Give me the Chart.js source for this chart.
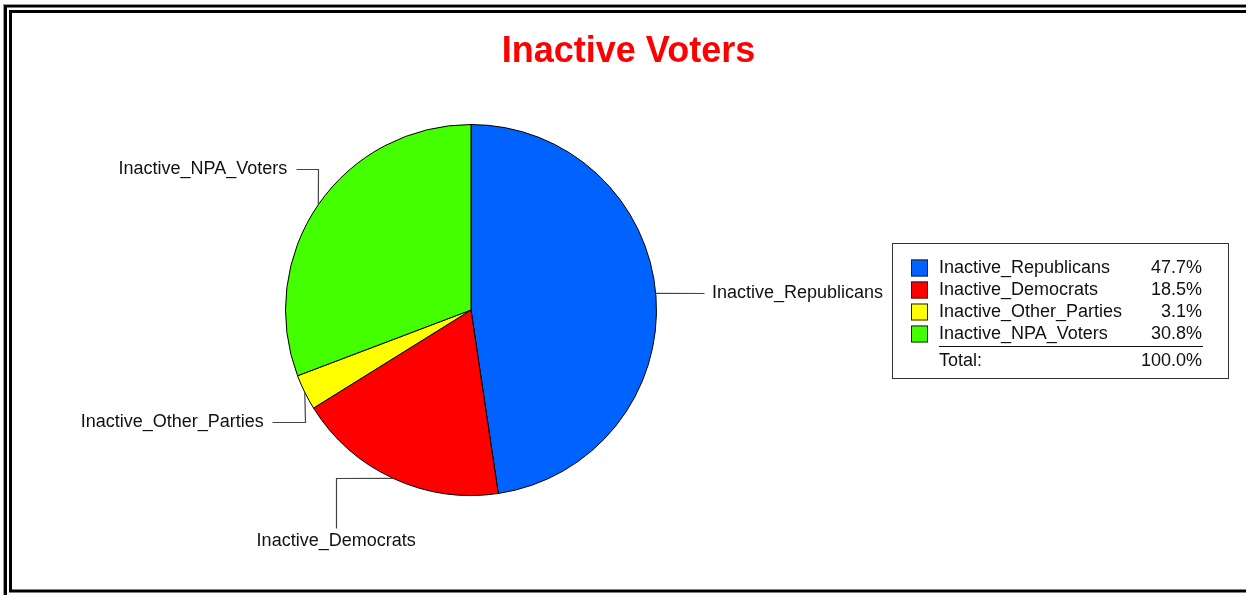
<!DOCTYPE html>
<html>
<head>
<meta charset="utf-8">
<script src="https://cdn.jsdelivr.net/npm/chart.js@4"></script>
<style>
  html, body { margin: 0; padding: 0; background: #fff; }
  #wrap { width: 1246px; height: 595px; position: relative; overflow: hidden; }
</style>
</head>
<body>
<div id="wrap"><canvas id="c" width="1246" height="595"></canvas></div>
<script>
// ---- data ----
const chartTitle = "Inactive Voters";
const categories = ["Inactive_Republicans", "Inactive_Democrats", "Inactive_Other_Parties", "Inactive_NPA_Voters"];
const percentValues = [47.7, 18.5, 3.1, 30.8];
const totalLabel = "Total:";
const totalPercent = 100.0;
const sliceColors = ["#0062FF", "#FF0000", "#FFFF00", "#44FF00"];

// ---- label leader layouts (style/placement options) ----
const leaderLayouts = [
  { start: [0, -3], path: [[48, -3]], text: [56, -3], align: "left" },
  { start: [0, 0], path: [[-57, 0], [-57, 50]], text: [-57, 63], align: "center" },
  { start: [0, 0], path: [[0, 30], [-33, 30]], text: [-41, 30], align: "right" },
  { start: [0, 0], path: [[0, -36], [-22, -36]], text: [-31, -36], align: "right" }
];

const FONT = "'Liberation Sans', Arial, Helvetica, sans-serif";

const framePlugin = {
  id: "frame",
  beforeDraw(chart) {
    const ctx = chart.ctx;
    ctx.save();
    ctx.fillStyle = "#fff";
    ctx.fillRect(0, 0, chart.width, chart.height);
    ctx.strokeStyle = "#000";
    ctx.lineWidth = 3;
    ctx.strokeRect(5.5, 6, 1400, 700);
    ctx.strokeRect(10.5, 11.5, 1400, 579.5);
    ctx.strokeStyle = "#999";
    ctx.lineWidth = 1;
    ctx.strokeRect(3.5, 4.5, 1400, 700);
    ctx.restore();
  },
  afterDraw(chart) {
    const ctx = chart.ctx;
    ctx.save();
    // title
    ctx.fillStyle = "#FF0000";
    ctx.font = "bold 36px " + FONT;
    ctx.textAlign = "center";
    ctx.textBaseline = "middle";
    ctx.fillText(chartTitle, 628.5, 52);

    // leader lines + labels
    const meta = chart.getDatasetMeta(0);
    ctx.font = "18px " + FONT;
    meta.data.forEach((arc, i) => {
      const p = arc.getProps(["x", "y", "startAngle", "endAngle", "outerRadius"], true);
      const mid = (p.startAngle + p.endAngle) / 2;
      const ax = p.x + Math.cos(mid) * p.outerRadius;
      const ay = p.y + Math.sin(mid) * p.outerRadius;
      const lay = leaderLayouts[i];
      ctx.strokeStyle = "#444";
      ctx.lineWidth = 1.2;
      ctx.beginPath();
      ctx.moveTo(ax + lay.start[0], ay + lay.start[1]);
      lay.path.forEach(pt => ctx.lineTo(Math.round(ax + pt[0]) + 0.5, Math.round(ay + pt[1]) + 0.5));
      ctx.stroke();
      ctx.fillStyle = "#111";
      ctx.textAlign = lay.align;
      ctx.textBaseline = "middle";
      ctx.fillText(categories[i], ax + lay.text[0], ay + lay.text[1]);
    });

    // legend box
    const bx = 892.5, by = 243.5, bw = 336, bh = 135;
    ctx.strokeStyle = "#333";
    ctx.lineWidth = 1;
    ctx.strokeRect(bx, by, bw, bh);
    const rowY0 = 268, rowH = 22;
    ctx.font = "18px " + FONT;
    ctx.textBaseline = "middle";
    categories.forEach((name, i) => {
      const y = rowY0 + i * rowH;
      ctx.fillStyle = sliceColors[i];
      ctx.fillRect(911, y - 8.5, 17, 17);
      ctx.strokeStyle = "#222";
      ctx.strokeRect(911.5, y - 8, 16, 16);
      ctx.fillStyle = "#111";
      ctx.textAlign = "left";
      ctx.fillText(name, 939, y);
      ctx.textAlign = "right";
      ctx.fillText(percentValues[i].toFixed(1) + "%", 1202, y);
    });
    ctx.strokeStyle = "#111";
    ctx.beginPath();
    ctx.moveTo(939, 346.5);
    ctx.lineTo(1203, 346.5);
    ctx.stroke();
    ctx.fillStyle = "#111";
    ctx.textAlign = "left";
    ctx.fillText(totalLabel, 939, 361);
    ctx.textAlign = "right";
    ctx.fillText(totalPercent.toFixed(1) + "%", 1202, 361);
    ctx.restore();
  }
};

new Chart(document.getElementById("c"), {
  type: "pie",
  data: {
    labels: categories,
    datasets: [{
      data: percentValues,
      backgroundColor: sliceColors,
      borderColor: "#000",
      borderWidth: 1,
      borderAlign: "center"
    }]
  },
  options: {
    responsive: false,
    animation: false,
    devicePixelRatio: 1,
    layout: { padding: { left: 285, right: 589, top: 124, bottom: 99 } },
    plugins: {
      legend: { display: false },
      title: { display: false },
      tooltip: { enabled: false }
    }
  },
  plugins: [framePlugin]
});
</script>
</body>
</html>
